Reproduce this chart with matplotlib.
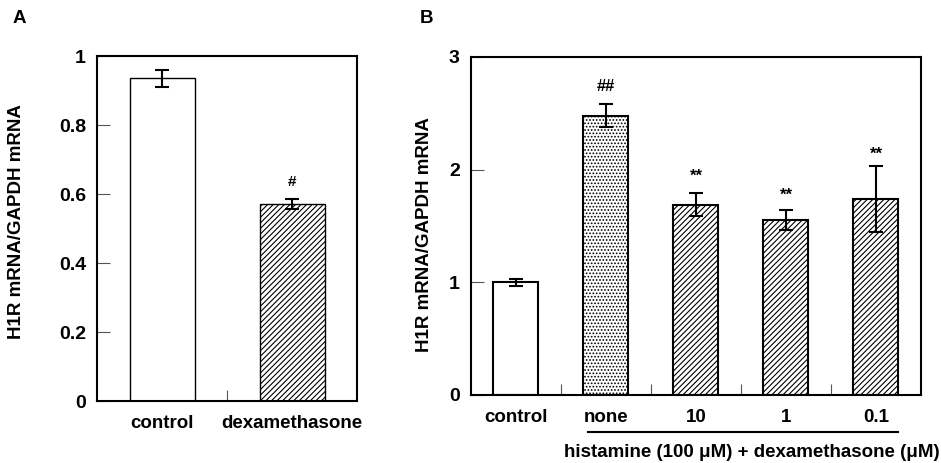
import matplotlib.pyplot as plt

plt.rcParams['font.family'] = ['Liberation Sans', 'DejaVu Sans']
plt.rcParams['font.weight'] = 'bold'
plt.rcParams['hatch.linewidth'] = 0.8

# panel A data
a_labels = ['control', 'dexamethasone']
a_values = [0.935, 0.572]
a_errors = [0.025, 0.015]
a_marks = ['', '#']
a_mark_y = [None, 0.636]

# panel B data
b_labels = ['control', 'none', '10', '1', '0.1']
b_values = [1.0, 2.48, 1.69, 1.555, 1.74]
b_errors = [0.03, 0.10, 0.10, 0.09, 0.29]
b_marks = ['', '##', '**', '**', '**']
b_mark_y = [None, 2.74, 1.94, 1.77, 2.14]
b_hatch = ['', '.....', '//////', '//////', '//////']

fig = plt.figure(figsize=(9.41, 4.63), dpi=100)

axA = fig.add_axes([0.1031, 0.1339, 0.2763, 0.7451])
axB = fig.add_axes([0.5005, 0.1469, 0.4782, 0.730])


def style_axis(ax, n, ymax, yticks, yticklabels):
    ax.set_xlim(-0.5, n - 0.5)
    ax.set_ylim(0, ymax)
    ax.set_yticks(yticks)
    ax.set_yticklabels(yticklabels)
    ax.set_xticks(range(n))
    ax.set_xticks([i + 0.5 for i in range(n - 1)], minor=True)
    ax.tick_params(axis='y', direction='in', length=9, width=0.8, color='#555555',
                   labelsize=14, pad=8)
    ax.tick_params(axis='x', which='major', length=0, labelsize=13.5, pad=10)
    ax.tick_params(axis='x', which='minor', direction='in', length=8, width=0.8,
                   color='#555555')
    for s in ax.spines.values():
        s.set_linewidth(1.5)
    ax.set_ylabel('H1R mRNA/GAPDH mRNA', fontsize=13.5, fontweight='bold')


# panel A
axA.bar(range(2), a_values, width=0.5, color='white', edgecolor='black',
        linewidth=1.0, hatch=['', '//////'], zorder=2)
axA.errorbar(range(2), a_values, yerr=a_errors, fmt='none', ecolor='black',
             elinewidth=1.5, capsize=5, capthick=1.5, zorder=3)
for i, m in enumerate(a_marks):
    if m:
        axA.text(i, a_mark_y[i], m, ha='center', va='center', fontsize=11)
style_axis(axA, 2, 1.0, [0, 0.2, 0.4, 0.6, 0.8, 1.0],
           ['0', '0.2', '0.4', '0.6', '0.8', '1'])
axA.set_xticklabels(a_labels)
axA.yaxis.set_label_coords(-0.277, 0.52)

# panel B
axB.bar(range(5), b_values, width=0.5, color='white', edgecolor='black',
        linewidth=1.5, hatch=b_hatch, zorder=2)
axB.errorbar(range(5), b_values, yerr=b_errors, fmt='none', ecolor='black',
             elinewidth=1.5, capsize=5, capthick=1.5, zorder=3)
for i, m in enumerate(b_marks):
    if m:
        axB.text(i, b_mark_y[i], m, ha='center', va='center', fontsize=12)
style_axis(axB, 5, 3, [0, 1, 2, 3], ['0', '1', '2', '3'])
axB.set_xticklabels(b_labels)
axB.yaxis.set_label_coords(-0.084, 0.476)

# group line and label
trans = axB.get_xaxis_transform()
axB.plot([0.8, 4.25], [-0.109, -0.109], color='black', lw=1.5,
         transform=trans, clip_on=False)
axB.text(2.62, -0.17, 'histamine (100 μM) + dexamethasone (μM)', ha='center',
         va='center', fontsize=13.5, transform=trans)

fig.text(0.0138, 0.959, 'A', fontsize=13.5, fontweight='bold', va='center')
fig.text(0.446, 0.959, 'B', fontsize=13.5, fontweight='bold', va='center')

fig.savefig('out.png', dpi=100)
